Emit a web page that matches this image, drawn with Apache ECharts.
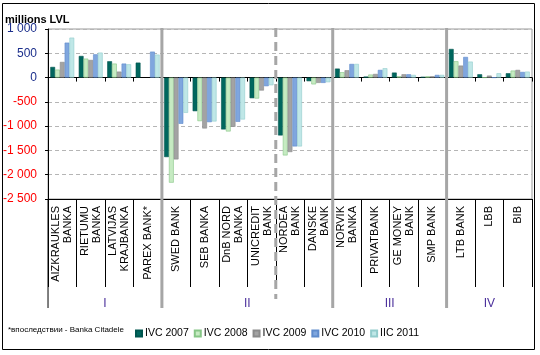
<!DOCTYPE html>
<html><head><meta charset="utf-8">
<script src="https://cdn.jsdelivr.net/npm/echarts@6/dist/echarts.min.js"></script>
<style>html,body{margin:0;padding:0;background:#fff}#c{width:540px;height:355px}</style>
</head><body><div id="c"></div>
<script>
const categories = ['AIZKRAUKLES\nBANKA','RIETUMU\nBANKA','LATVIJAS\nKRAJBANKA','PAREX BANK*','SWED BANK','SEB BANKA','DnB NORD\nBANKA','UNICREDIT\nBANK','NORDEA\nBANK','DANSKE\nBANK','NORVIK\nBANKA','PRIVATBANK','GE MONEY\nBANK','SMP BANK','LTB BANK','LBB','BIB'];
const groupNames = ['I','II','III','IV'];
const groupSizes = [4,6,4,3];
const dashedBoundary = 8;
const seriesNames = ['IVC 2007','IVC 2008','IVC 2009','IVC 2010','IIC 2011'];
const v2007 = [219, 445, 336, 308, -1637, -692, -1068, -425, -1192, -75, 185, 20, 103, 14, 589, 68, 89];
const v2008 = [164, 390, 288, null, -2164, -897, -1110, -432, -1603, -140, 110, 62, 27, 27, 336, 0, 144];
const v2009 = [322, 363, 123, null, -1685, -1048, -1014, -267, -1534, -110, 151, 75, 68, 27, 247, 41, 158];
const v2010 = [719, 479, 288, 534, -952, -918, -911, -178, -1418, -110, 281, 158, 68, 55, 425, 0, 116];
const v2011 = [822, 514, 274, 473, -726, -904, -863, -158, -1418, -96, 281, 192, 55, 55, 329, 89, 123];
const yMin = -2500, yMax = 1000, yStep = 500;
const yTitle = 'millions LVL';
const footnote = '*впоследствии - Banka Citadele';

const seriesData = [v2007, v2008, v2009, v2010, v2011];
const colors = ['#00675E','#C6EBC2','#A3A3A3','#7FA6DE','#BFE7E7'];
const borders = ['#00564f','#86c686','#8a8a8a','#5f8bcc','#92cccc'];
const FONT = 'Liberation Sans, Arial, sans-serif';

function fmt(v){
  const s = String(Math.abs(v)).replace(/\B(?=(\d{3})+(?!\d))/g, ' ');
  return (v < 0 ? '-' : '') + s;
}

const chart = echarts.init(document.getElementById('c'), null, {renderer:'canvas'});
const option = {
  animation: false,
  backgroundColor: '#fff',
  grid: {left: 47, right: 8, top: 29, bottom: 156, show: true, borderColor: '#9a9a9a', borderWidth: 1},
  legend: {
    left: 130, top: 323, icon: 'rect', itemWidth: 6, itemHeight: 6, itemGap: 5,
    textStyle: {fontFamily: FONT, fontSize: 10.5, color: '#000', padding: [0,0,0,-2]},
    data: seriesNames
  },
  xAxis: [{
    type: 'category', data: categories, position: 'bottom',
    axisLine: {onZero: true, lineStyle: {color: '#000', width: 1}},
    axisTick: {show: true, length: 4, interval: 0, lineStyle: {color: '#000'}},
    axisLabel: {show: false}, splitLine: {show: false}
  }, {
    type: 'category', data: categories, position: 'bottom',
    axisLine: {onZero: false, lineStyle: {color: '#000', width: 1}},
    axisTick: {show: true, length: 88, interval: 0, lineStyle: {color: '#000'}},
    axisLabel: {interval: 0, rotate: 90, margin: 7, fontFamily: FONT, fontSize: 11, lineHeight: 12, color: '#000'},
    splitLine: {show: false}
  }],
  yAxis: {
    type: 'value', min: yMin, max: yMax, interval: yStep,
    axisLine: {show: true, lineStyle: {color: '#000'}},
    axisTick: {show: true, length: 3, inside: false, lineStyle: {color: '#000'}},
    axisLabel: {
      formatter: fmt, fontFamily: FONT, fontSize: 12, margin: 11,
      color: function (v) { return Number(v) < 0 ? '#ff0000' : '#1c2f8c'; }
    },
    splitLine: {show: true, lineStyle: {color: '#b5b5b5', type: [4, 3], width: 1}}
  },
  series: seriesNames.map((n, i) => ({
    name: n, type: 'bar', xAxisIndex: 0, data: seriesData[i],
    barGap: '0%', barCategoryGap: '16%',
    itemStyle: {color: colors[i], borderColor: borders[i], borderWidth: 0.6}
  }))
};
chart.setOption(option);

function bx(i){
  const c0 = chart.convertToPixel({xAxisIndex: 0}, 0);
  const c1 = chart.convertToPixel({xAxisIndex: 0}, 1);
  const bw = c1 - c0;
  return c0 - bw / 2 + i * bw;
}
const yTop = chart.convertToPixel({yAxisIndex: 0}, yMax);
const yBot = chart.convertToPixel({yAxisIndex: 0}, yMin);
const g = [];
g.push({type: 'rect', shape: {x: 2.5, y: 3.5, width: 532, height: 346}, style: {fill: null, stroke: '#000', lineWidth: 1}, z: 100});
g.push({type: 'text', left: 5, top: 14, style: {text: yTitle, font: 'bold 11px ' + FONT, fill: '#000'}});
g.push({type: 'text', left: 8, top: 326, style: {text: footnote, font: '8px ' + FONT, fill: '#000'}});
g.push({type: 'line', shape: {x1: bx(0), y1: yBot, x2: bx(0), y2: yBot + 109}, style: {stroke: '#000', lineWidth: 1}, z: 50});
let acc = 0;
groupSizes.forEach((sz, k) => {
  const s = acc, e = acc + sz;
  g.push({type: 'text', x: (bx(s) + bx(e)) / 2, y: yBot + 105,
    style: {text: groupNames[k], font: '12px ' + FONT, fill: '#4b2f9b', align: 'center', verticalAlign: 'middle'}, z: 60});
  if (k > 0) {
    g.push({type: 'line', shape: {x1: bx(s), y1: yTop - 1, x2: bx(s), y2: yBot + 109},
      style: {stroke: '#a6a6a6', lineWidth: 3}, z: 50});
  }
  acc = e;
});
g.push({type: 'line', shape: {x1: bx(dashedBoundary), y1: yTop - 1, x2: bx(dashedBoundary), y2: yBot + 100},
  style: {stroke: '#a6a6a6', lineWidth: 3, lineDash: [9, 5]}, z: 50});
chart.setOption({graphic: g});
</script>
</body></html>
